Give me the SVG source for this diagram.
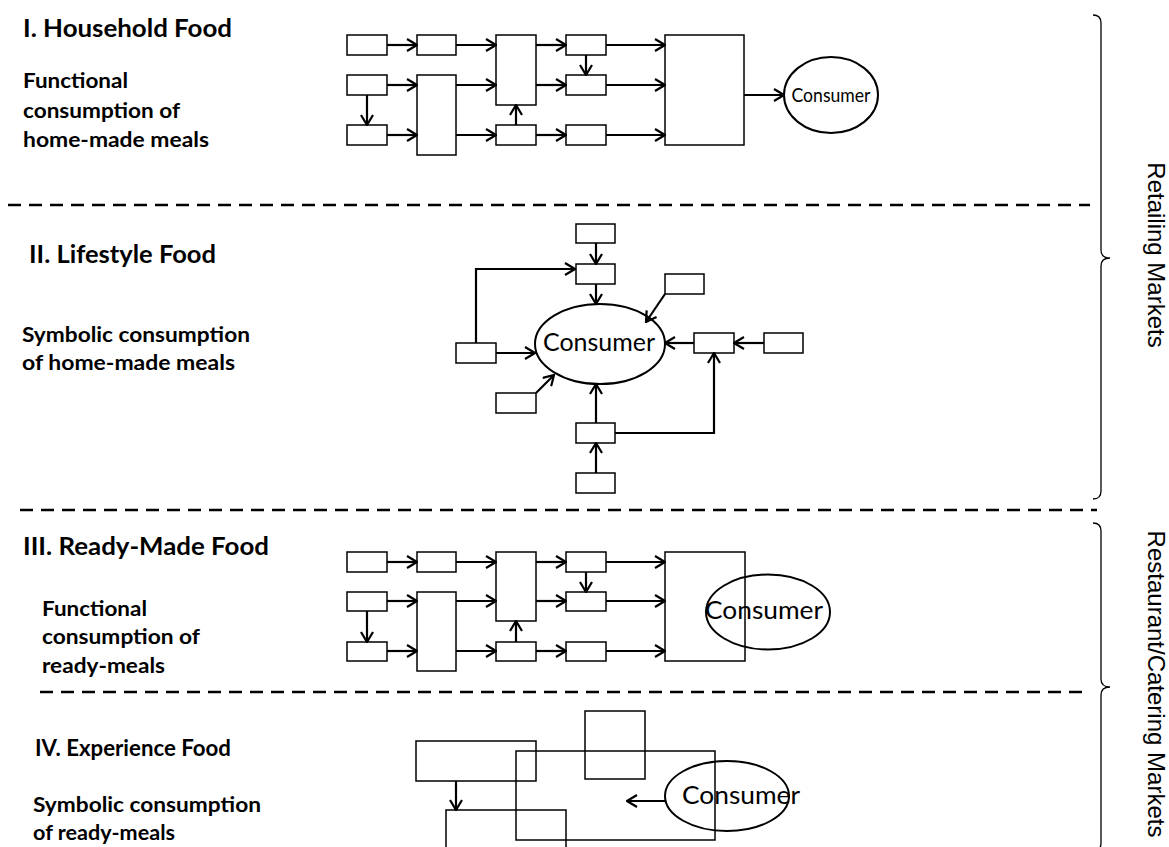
<svg xmlns="http://www.w3.org/2000/svg" width="1169" height="847" viewBox="0 0 1169 847">
<style>
.box{fill:none;stroke:#000;stroke-width:1.5}
.ell{fill:none;stroke:#000;stroke-width:2}
.con{fill:none;stroke:#000;stroke-width:2.2;marker-end:url(#ah)}
.dash{stroke:#000;stroke-width:2.5;stroke-dasharray:13 8}
.title{font-family:Lato,"Liberation Sans",sans-serif;font-weight:bold;font-size:25px;fill:#000}
.body{font-family:Lato,"Liberation Sans",sans-serif;font-weight:bold;font-size:21.6px;fill:#000}
.cons{font-family:Lato,"Liberation Sans",sans-serif;font-size:25px;fill:#000;text-anchor:middle}
.mkt{font-family:"Liberation Sans",Arial,sans-serif;font-size:24px;fill:#000;text-anchor:middle}
.brace{fill:none;stroke:#000;stroke-width:1.3}
</style>
<defs>
<marker id="ah" viewBox="0 0 12 14" refX="11" refY="7" markerWidth="12" markerHeight="14" markerUnits="userSpaceOnUse" orient="auto">
<path d="M1,1 L11,7 L1,13" fill="none" stroke="#000" stroke-width="2.2"/>
</marker>
</defs>
<rect width="1169" height="847" fill="#fff"/>

<g id="labels">
<text class="title" x="23" y="37" textLength="209" lengthAdjust="spacingAndGlyphs">I. Household Food</text>
<text class="body" x="23" y="88" textLength="105" lengthAdjust="spacingAndGlyphs">Functional</text>
<text class="body" x="23" y="118" textLength="157" lengthAdjust="spacingAndGlyphs">consumption of</text>
<text class="body" x="23" y="147" textLength="186" lengthAdjust="spacingAndGlyphs">home-made meals</text>

<text class="title" x="29" y="263" textLength="187" lengthAdjust="spacingAndGlyphs">II. Lifestyle Food</text>
<text class="body" x="22" y="342" textLength="228" lengthAdjust="spacingAndGlyphs">Symbolic consumption</text>
<text class="body" x="22" y="370" textLength="213" lengthAdjust="spacingAndGlyphs">of home-made meals</text>

<text class="title" x="23" y="555" textLength="246" lengthAdjust="spacingAndGlyphs">III. Ready-Made Food</text>
<text class="body" x="42" y="616" textLength="105" lengthAdjust="spacingAndGlyphs">Functional</text>
<text class="body" x="42" y="644" textLength="158" lengthAdjust="spacingAndGlyphs">consumption of</text>
<text class="body" x="42" y="673" textLength="123" lengthAdjust="spacingAndGlyphs">ready-meals</text>

<text class="title" x="35" y="756" textLength="196" lengthAdjust="spacingAndGlyphs" style="font-size:22px">IV. Experience Food</text>
<text class="body" x="33" y="812" textLength="228" lengthAdjust="spacingAndGlyphs">Symbolic consumption</text>
<text class="body" x="33" y="840" textLength="142" lengthAdjust="spacingAndGlyphs">of ready-meals</text>
</g>

<g id="dividers">
<line class="dash" x1="8" y1="205" x2="1090" y2="205"/>
<line class="dash" x1="20" y1="510" x2="1097" y2="510"/>
<line class="dash" x1="40" y1="692" x2="1090" y2="692"/>
</g>

<g id="markets">
<path class="brace" d="M1093,15 Q1101,15 1101,23 L1101,250 Q1101,258 1110,258 Q1101,258 1101,266 L1101,491 Q1101,499 1093,499"/>
<text class="mkt" transform="translate(1148,255) rotate(90)">Retailing Markets</text>
<path class="brace" d="M1093,523 Q1101,523 1101,531 L1101,679 Q1101,687 1110,687 Q1101,687 1101,695 L1101,843 Q1101,851 1093,851"/>
<text class="mkt" transform="translate(1148,684) rotate(90)">Restaurant/Catering Markets</text>
</g>

<!-- Section I -->
<g id="s1-nodes">
<rect id="s1-a1" class="box" x="347" y="35" width="40" height="20"/>
<rect id="s1-a2" class="box" x="417" y="35" width="39" height="20"/>
<rect id="s1-a3" class="box" x="496" y="35" width="40" height="70"/>
<rect id="s1-a4" class="box" x="566" y="35" width="40" height="20"/>
<rect id="s1-b1" class="box" x="347" y="75" width="40" height="20"/>
<rect id="s1-b2" class="box" x="417" y="75" width="39" height="80"/>
<rect id="s1-b4" class="box" x="566" y="75" width="40" height="20"/>
<rect id="s1-c1" class="box" x="347" y="125" width="40" height="20"/>
<rect id="s1-c3" class="box" x="496" y="125" width="40" height="20"/>
<rect id="s1-c4" class="box" x="566" y="125" width="40" height="20"/>
<rect id="s1-big" class="box" x="665" y="35" width="79" height="110"/>
<g id="s1-consumer">
<ellipse class="ell" cx="831" cy="95" rx="47" ry="38"/>
<text class="cons" x="831" y="102" style="font-size:19.5px" textLength="79" lengthAdjust="spacingAndGlyphs">Consumer</text>
</g>
</g>

<!-- Section II -->
<g id="s2-nodes">
<rect id="s2-top" class="box" x="576" y="224" width="39" height="19"/>
<rect id="s2-upper" class="box" x="576" y="264" width="39" height="20"/>
<rect id="s2-ur" class="box" x="665" y="274" width="39" height="20"/>
<rect id="s2-left" class="box" x="456" y="343" width="40" height="20"/>
<rect id="s2-right" class="box" x="694" y="333" width="40" height="20"/>
<rect id="s2-far" class="box" x="764" y="333" width="39" height="20"/>
<rect id="s2-ll" class="box" x="496" y="393" width="40" height="20"/>
<rect id="s2-lower" class="box" x="576" y="423" width="39" height="20"/>
<rect id="s2-bottom" class="box" x="576" y="473" width="39" height="20"/>
<g id="s2-consumer">
<ellipse class="ell" cx="600" cy="344" rx="65" ry="40"/>
<text class="cons" x="599" y="351" style="font-size:24.5px" textLength="112" lengthAdjust="spacingAndGlyphs">Consumer</text>
</g>
</g>

<!-- Section III -->
<g id="s3-nodes">
<rect id="s3-a1" class="box" x="347" y="552" width="40" height="20"/>
<rect id="s3-a2" class="box" x="417" y="552" width="39" height="20"/>
<rect id="s3-a3" class="box" x="496" y="552" width="40" height="69"/>
<rect id="s3-a4" class="box" x="566" y="552" width="40" height="20"/>
<rect id="s3-b1" class="box" x="347" y="592" width="40" height="19"/>
<rect id="s3-b2" class="box" x="417" y="592" width="39" height="79"/>
<rect id="s3-b4" class="box" x="566" y="592" width="40" height="19"/>
<rect id="s3-c1" class="box" x="347" y="642" width="40" height="19"/>
<rect id="s3-c3" class="box" x="496" y="642" width="40" height="19"/>
<rect id="s3-c4" class="box" x="566" y="642" width="40" height="19"/>
<rect id="s3-big" class="box" x="665" y="552" width="80" height="109"/>
<g id="s3-consumer">
<ellipse class="ell" cx="768" cy="612" rx="62" ry="37.5"/>
<text class="cons" x="764" y="619" style="font-size:25.6px" textLength="118" lengthAdjust="spacingAndGlyphs">Consumer</text>
</g>
</g>

<!-- Section IV -->
<g id="s4-nodes">
<rect id="s4-square" class="box" x="585" y="711" width="60" height="68"/>
<rect id="s4-wide" class="box" x="416" y="741" width="120" height="40"/>
<rect id="s4-big" class="box" x="516" y="751" width="199" height="89"/>
<rect id="s4-bottom" class="box" x="446" y="810" width="120" height="60"/>
<g id="s4-consumer">
<ellipse class="ell" cx="727" cy="796" rx="62" ry="35"/>
<text class="cons" x="741" y="804" style="font-size:25.6px" textLength="118" lengthAdjust="spacingAndGlyphs">Consumer</text>
</g>
</g>

<g id="connectors">
<line class="con" x1="387" y1="45" x2="417" y2="45"/>
<line class="con" x1="456" y1="45" x2="496" y2="45"/>
<line class="con" x1="536" y1="45" x2="566" y2="45"/>
<line class="con" x1="606" y1="45" x2="665" y2="45"/>
<line class="con" x1="387" y1="85" x2="417" y2="85"/>
<line class="con" x1="456" y1="85" x2="496" y2="85"/>
<line class="con" x1="536" y1="85" x2="566" y2="85"/>
<line class="con" x1="606" y1="85" x2="665" y2="85"/>
<line class="con" x1="387" y1="135" x2="417" y2="135"/>
<line class="con" x1="456" y1="135" x2="496" y2="135"/>
<line class="con" x1="536" y1="135" x2="566" y2="135"/>
<line class="con" x1="606" y1="135" x2="665" y2="135"/>
<line class="con" x1="367" y1="95" x2="367" y2="125"/>
<line class="con" x1="516" y1="125" x2="516" y2="105"/>
<line class="con" x1="586" y1="55" x2="586" y2="75"/>
<line class="con" x1="744" y1="95" x2="784" y2="95"/>
<line class="con" x1="596" y1="243" x2="596" y2="264"/>
<line class="con" x1="596" y1="284" x2="596" y2="304"/>
<polyline class="con" points="476,343 476,269 575,269"/>
<line class="con" x1="496" y1="353" x2="535" y2="353"/>
<line class="con" x1="665" y1="294" x2="646" y2="322"/>
<line class="con" x1="694" y1="343" x2="665" y2="343"/>
<line class="con" x1="764" y1="343" x2="734" y2="343"/>
<line class="con" x1="536" y1="393" x2="554" y2="375"/>
<line class="con" x1="596" y1="423" x2="596" y2="384"/>
<line class="con" x1="596" y1="473" x2="596" y2="443"/>
<polyline class="con" points="615,433 714,433 714,353"/>
<line class="con" x1="387" y1="562" x2="417" y2="562"/>
<line class="con" x1="456" y1="562" x2="496" y2="562"/>
<line class="con" x1="536" y1="562" x2="566" y2="562"/>
<line class="con" x1="606" y1="562" x2="665" y2="562"/>
<line class="con" x1="387" y1="601" x2="417" y2="601"/>
<line class="con" x1="456" y1="601" x2="496" y2="601"/>
<line class="con" x1="536" y1="601" x2="566" y2="601"/>
<line class="con" x1="606" y1="601" x2="665" y2="601"/>
<line class="con" x1="387" y1="651" x2="417" y2="651"/>
<line class="con" x1="456" y1="651" x2="496" y2="651"/>
<line class="con" x1="536" y1="651" x2="566" y2="651"/>
<line class="con" x1="606" y1="651" x2="665" y2="651"/>
<line class="con" x1="367" y1="611" x2="367" y2="642"/>
<line class="con" x1="516" y1="642" x2="516" y2="621"/>
<line class="con" x1="586" y1="572" x2="586" y2="592"/>
<line class="con" x1="456" y1="781" x2="456" y2="810"/>
<line class="con" x1="665" y1="801" x2="627" y2="801"/>
</g>
</svg>
